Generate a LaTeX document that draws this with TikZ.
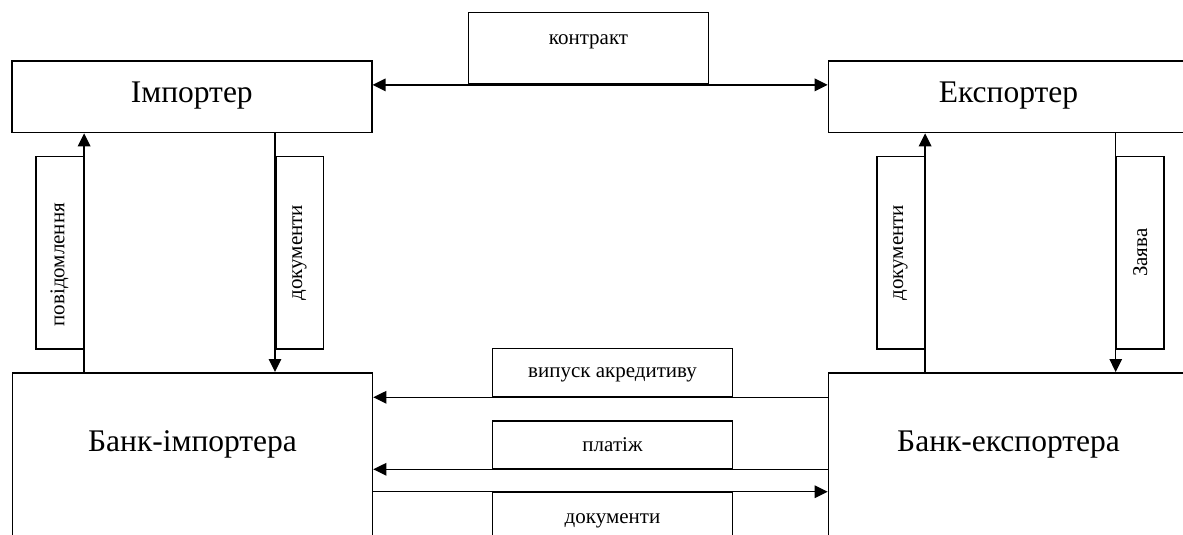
\documentclass[tikz,border=0pt]{standalone}
\usepackage{fontspec}
\setmainfont{Liberation Serif}
\usepackage{graphicx}
\usetikzlibrary{arrows.meta}

\tikzset{
  party/.style={draw, black, line width=1.6pt, inner sep=0pt, anchor=north west,
    minimum width=360pt, text height=41.7pt, text depth=30pt,
    font=\fontsize{31.5}{36}\selectfont},
  note/.style={draw, black, line width=1.6pt, inner sep=0pt, anchor=north west,
    minimum width=240pt, font=\fontsize{21}{24}\selectfont},
  vnote/.style={note, minimum width=47.5pt, minimum height=192.3pt},
  flow/.style={black, line width=1.5pt},
}

\begin{document}
\begin{tikzpicture}[x=1pt, y=-1pt, >={Triangle[length=13pt,width=12.5pt]}]
\clip (0,0) rectangle (1183,535);
% учасники
\node[party] (imp) at (11,60) {Імпортер};
\node[party] (exp) at (827.7,60) {Експортер};
\node[party, text height=78.7pt, text depth=100pt] (bimp) at (11.7,372) {Банк-імпортера};
\node[party, text height=78.7pt, text depth=100pt] (bexp) at (827.7,372) {Банк-експортера};
% підписи потоків
\node[note, text height=31.6pt, text depth=40pt] (kontr) at (467.7,11.7) {контракт};
\node[note, text height=29.3pt, text depth=18.7pt] (vyp) at (491.7,347.7) {випуск акредитиву};
\node[note, text height=30.7pt, text depth=17pt] (plat) at (491.7,420) {платіж};
\node[note, text height=31.3pt, text depth=20pt] (docb) at (491.7,491.7) {документи};
\node[vnote] (povid) at (35,155.7) {\rotatebox{90}{повідомлення\hspace*{24pt}}};
\node[vnote] (dokl) at (275,155.7) {\rotatebox{90}{документи}};
\node[vnote] (dokr) at (876,155.7) {\rotatebox{90}{документи}};
\node[vnote] (zayava) at (1115.7,155.7) {\rotatebox{90}{Заява}};
% потоки
\draw[flow, <->] (kontr.south -| imp.east) -- (kontr.south -| exp.west);
\draw[flow, ->] (bimp.north -| povid.east) -- (imp.south -| povid.east);
\draw[flow, ->] (imp.south -| dokl.west) -- (bimp.north -| dokl.west);
\draw[flow, ->] (bexp.north -| dokr.east) -- (exp.south -| dokr.east);
\draw[flow, ->] (exp.south -| zayava.west) -- (bexp.north -| zayava.west);
\draw[flow, ->] (vyp.south -| bexp.west) -- (vyp.south -| bimp.east);
\draw[flow, ->] (plat.south -| bexp.west) -- (plat.south -| bimp.east);
\draw[flow, ->] (docb.north -| bimp.east) -- (docb.north -| bexp.west);
\end{tikzpicture}
\end{document}
